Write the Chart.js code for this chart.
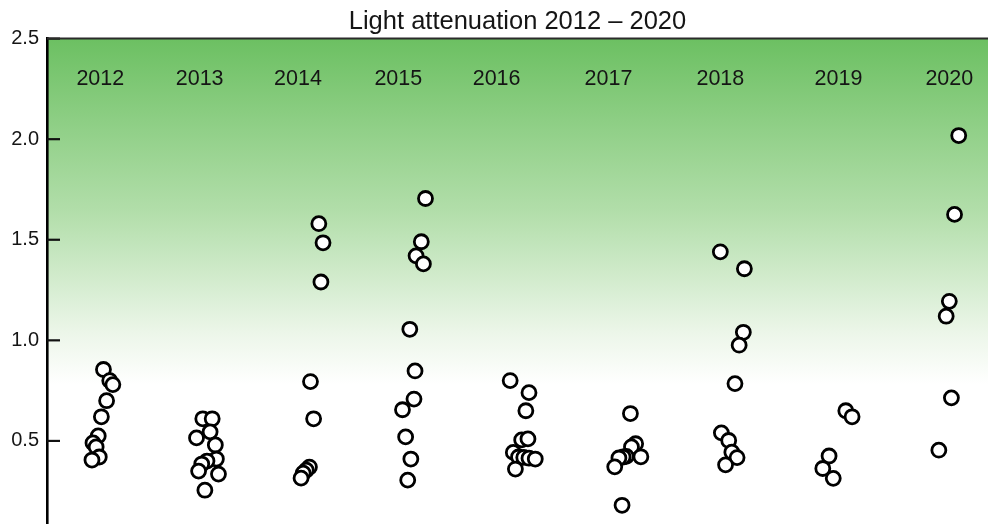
<!DOCTYPE html>
<html>
<head>
<meta charset="utf-8">
<title>Light attenuation 2012 – 2020</title>
<script src="https://cdn.jsdelivr.net/npm/chart.js@4.4.1/dist/chart.umd.min.js"></script>
<style>
  html, body { margin: 0; padding: 0; background: #ffffff; }
  #wrap { width: 988px; height: 524px; }
</style>
</head>
<body>
<div id="wrap"><canvas id="chart" width="988" height="524"></canvas></div>
<script>
// Survey years and where each year's label sits along the horizontal axis
const years = ['2012', '2013', '2014', '2015', '2016', '2017', '2018', '2019', '2020'];
const yearLabelX = [2012.01, 2012.96, 2013.90, 2014.86, 2015.80, 2016.87, 2017.94, 2019.07, 2020.13];

// Vertical axis ticks
const yTicks = [0.5, 1.0, 1.5, 2.0, 2.5];

// Light attenuation per sample, with the jittered horizontal position of each sample
const att2012 = [0.855, 0.80, 0.78, 0.70, 0.62, 0.525, 0.49, 0.47, 0.42, 0.405];
const pos2012 = [2012.04, 2012.10, 2012.13, 2012.07, 2012.02, 2011.99, 2011.94, 2011.97, 2012.00, 2011.93];

const att2013 = [0.61, 0.61, 0.545, 0.515, 0.48, 0.41, 0.40, 0.385, 0.35, 0.335, 0.255];
const pos2013 = [2012.99, 2013.08, 2013.06, 2012.93, 2013.11, 2013.12, 2013.03, 2012.98, 2012.95, 2013.14, 2013.01];

const att2014 = [1.58, 1.485, 1.29, 0.795, 0.61, 0.37, 0.355, 0.34, 0.315];
const pos2014 = [2014.10, 2014.14, 2014.12, 2014.02, 2014.05, 2014.01, 2013.98, 2013.95, 2013.93];

const att2015 = [1.705, 1.49, 1.42, 1.38, 1.055, 0.848, 0.708, 0.655, 0.52, 0.41, 0.305];
const pos2015 = [2015.12, 2015.08, 2015.03, 2015.10, 2014.97, 2015.02, 2015.01, 2014.90, 2014.93, 2014.98, 2014.95];

const att2016 = [0.80, 0.74, 0.65, 0.505, 0.51, 0.443, 0.42, 0.418, 0.414, 0.41, 0.36];
const pos2016 = [2015.93, 2016.11, 2016.08, 2016.04, 2016.10, 2015.96, 2016.01, 2016.06, 2016.11, 2016.17, 2015.98];

const att2017 = [0.636, 0.486, 0.47, 0.421, 0.423, 0.42, 0.415, 0.371, 0.18];
const pos2017 = [2017.08, 2017.13, 2017.09, 2017.18, 2017.04, 2017.01, 2016.97, 2016.93, 2017.00];

const att2018 = [1.44, 1.356, 1.04, 0.976, 0.785, 0.54, 0.502, 0.444, 0.417, 0.381];
const pos2018 = [2017.94, 2018.17, 2018.16, 2018.12, 2018.08, 2017.95, 2018.02, 2018.05, 2018.10, 2017.99];

const att2019 = [0.65, 0.62, 0.425, 0.363, 0.314];
const pos2019 = [2019.14, 2019.20, 2018.98, 2018.92, 2019.02];

const att2020 = [2.018, 1.626, 1.194, 1.12, 0.714, 0.454];
const pos2020 = [2020.22, 2020.18, 2020.13, 2020.10, 2020.15, 2020.03];

const attByYear = [att2012, att2013, att2014, att2015, att2016, att2017, att2018, att2019, att2020];
const posByYear = [pos2012, pos2013, pos2014, pos2015, pos2016, pos2017, pos2018, pos2019, pos2020];

const points = [];
attByYear.forEach((vals, i) => {
  vals.forEach((v, j) => points.push({ x: posByYear[i][j], y: v }));
});

const FONT = '"Liberation Sans", Arial, Helvetica, sans-serif';

// Green-to-white wash behind the plot
const backdrop = {
  id: 'backdrop',
  beforeDraw(chart) {
    const { ctx, chartArea: a, scales } = chart;
    const fadeEnd = scales.y.getPixelForValue(0.78);
    const g = ctx.createLinearGradient(0, a.top, 0, fadeEnd);
    g.addColorStop(0, 'rgb(108,192,98)');
    g.addColorStop(0.5, 'rgb(178,222,170)');
    g.addColorStop(0.85, 'rgb(236,246,233)');
    g.addColorStop(1, 'rgb(255,255,255)');
    ctx.save();
    ctx.fillStyle = '#ffffff';
    ctx.fillRect(a.left, a.top, a.right - a.left, a.bottom - a.top);
    ctx.fillStyle = g;
    ctx.fillRect(a.left, a.top, a.right - a.left, fadeEnd - a.top);
    ctx.restore();
  }
};

// Inward tick marks, top frame line and the year labels inside the plot
const frame = {
  id: 'frame',
  afterDraw(chart) {
    const { ctx, chartArea: a, scales } = chart;
    ctx.save();
    ctx.strokeStyle = '#111111';
    ctx.lineWidth = 2.2;
    yTicks.forEach(v => {
      const y = scales.y.getPixelForValue(v);
      ctx.beginPath();
      ctx.moveTo(a.left, y);
      ctx.lineTo(a.left + 13, y);
      ctx.stroke();
    });
    ctx.strokeStyle = '#2b2b2b';
    ctx.lineWidth = 2;
    ctx.beginPath();
    ctx.moveTo(a.left, a.top);
    ctx.lineTo(a.right, a.top);
    ctx.stroke();

    ctx.fillStyle = '#151515';
    ctx.font = '21.5px ' + FONT;
    ctx.textAlign = 'center';
    ctx.textBaseline = 'middle';
    const ly = scales.y.getPixelForValue(2.3);
    years.forEach((t, i) => {
      ctx.fillText(t, scales.x.getPixelForValue(yearLabelX[i]), ly);
    });
    ctx.restore();
  }
};

new Chart(document.getElementById('chart'), {
  type: 'scatter',
  data: {
    datasets: [{
      data: points,
      pointRadius: 7,
      pointHoverRadius: 7,
      pointBorderWidth: 2.8,
      pointBackgroundColor: '#ffffff',
      pointBorderColor: '#000000'
    }]
  },
  options: {
    responsive: false,
    animation: false,
    events: [],
    layout: { padding: 0, autoPadding: false },
    plugins: {
      legend: { display: false },
      tooltip: { enabled: false },
      title: {
        display: true,
        text: 'Light attenuation 2012 – 2020',
        fullSize: false,
        color: '#151515',
        font: { family: FONT, size: 25.5, weight: 'normal' },
        padding: { top: 7, bottom: 1 }
      }
    },
    scales: {
      x: {
        type: 'linear',
        min: 2011.5,
        max: 2020.5,
        display: false
      },
      y: {
        type: 'linear',
        position: 'left',
        min: 0.087,
        max: 2.5,
        afterBuildTicks(scale) { scale.ticks = yTicks.map(v => ({ value: v })); },
        afterFit(scale) {
          scale.width = 47;
          scale.paddingTop = 0;
          scale.paddingBottom = 0;
        },
        grid: { display: false, drawTicks: false },
        border: { display: true, color: '#000000', width: 2.6 },
        ticks: {
          padding: 8,
          color: '#151515',
          font: { family: FONT, size: 20 },
          callback: v => Number(v).toFixed(1)
        }
      }
    }
  },
  plugins: [backdrop, frame]
});
</script>
</body>
</html>
